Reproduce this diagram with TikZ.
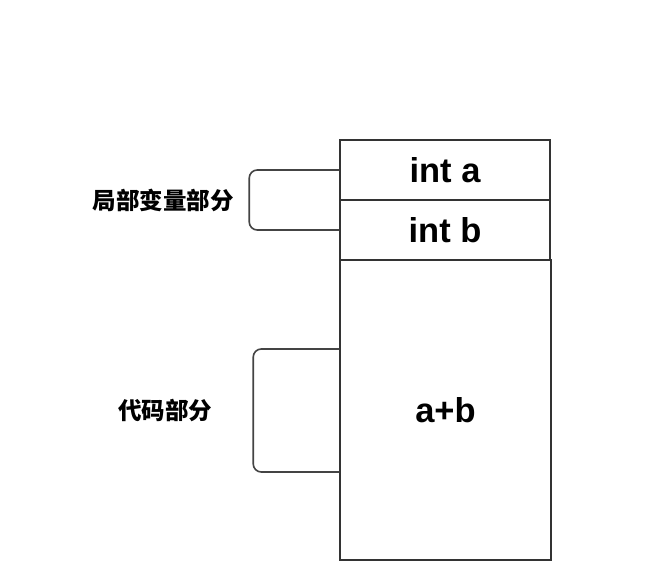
\documentclass[tikz,border=0pt]{standalone}
\usepackage{fontspec}
\setmainfont{Liberation Sans}
\newfontfamily\cjk{Noto Sans CJK SC}
\definecolor{boxline}{HTML}{333333}
\definecolor{brline}{HTML}{444444}
\begin{document}
\begin{tikzpicture}[x=1pt,y=-1pt,
  cell/.style={draw=boxline,line width=1.5pt,fill=white,inner sep=0pt,
    font=\fontsize{34.5}{40}\selectfont\bfseries},
  bracketline/.style={draw=brline,line width=1.6pt,rounded corners=8pt},
  label/.style={font=\cjk\fontsize{23.5}{28}\selectfont\bfseries,inner sep=0pt}]
\useasboundingbox (0,0) rectangle (655,580);
\fill[white] (0,0) rectangle (655,580);
\node[cell,minimum width=210pt,minimum height=60pt] (a) at (445,170) {int a};
\node[cell,minimum width=210pt,minimum height=60pt] (b) at (445,230) {int b};
\node[cell,minimum width=211pt,minimum height=300pt] (c) at (445.5,410) {a+b};
\coordinate (c1) at ([yshift=-62pt]c.west);
\coordinate (c2) at ([yshift=61pt]c.west);
\draw[bracketline] (a.west) -- ++(-90,0) |- (b.west);
\draw[bracketline] (c1) -- ++(-86,0) |- (c2);
\node[label] (l1) at (163,200) {局部变量部分};
\node[label] (l2) at (165,410) {代码部分};
\end{tikzpicture}
\end{document}
